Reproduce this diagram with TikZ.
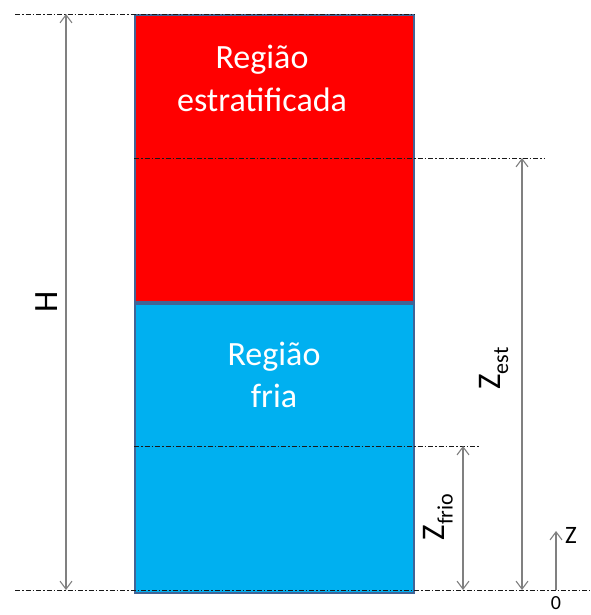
\documentclass[tikz,border=0pt]{standalone}
\usepackage{fontspec}
\setmainfont{Carlito}
\usetikzlibrary{arrows.meta}
\definecolor{hotred}{RGB}{255,0,0}
\definecolor{coldblue}{RGB}{0,176,240}
\definecolor{edgeblue}{RGB}{65,100,150}
\definecolor{shaftgray}{RGB}{128,128,128}
\tikzset{
  region/.style={draw=edgeblue, line width=2pt, anchor=north west, inner sep=0pt},
  level/.style={black!90, line width=0.9pt, dash pattern=on 5pt off 2pt on 1.5pt off 2pt},
  barb/.tip={Straight Barb[length=8pt,width=12pt,line width=1.1pt]},
  dim/.style={shaftgray, line width=1.4pt, barb-barb},
  bigtext/.style={white, font=\fontsize{34}{42}\selectfont, anchor=base, inner sep=0pt},
  label/.style={black, inner sep=0pt, font=\fontsize{33}{33}\selectfont}
}
\newcommand{\sublow}[1]{\raisebox{-8pt}{\fontsize{22}{22}\selectfont #1}}
\begin{document}
\begin{tikzpicture}[x=1pt,y=-1pt]
    \useasboundingbox (0,0) rectangle (590,615);
    % Tank: stratified (hot) region above, cold region below
    \node[region, fill=hotred, minimum width=279pt, minimum height=287pt] (hot) at (134,14) {};
    \node[region, fill=coldblue, minimum width=279pt, minimum height=289pt] (cold) at (hot.south west) {};
    \node[bigtext] (hotA) at (262,69) {Região};
    \node[bigtext] (hotB) at (262,112) {estratificada};
    \node[bigtext] (coldA) at (274,365) {Região};
    \node[bigtext] (coldB) at (274,407) {fria};
    % Reference levels
    \coordinate (topL) at (15,14);
    \coordinate (estL) at (134,158);
    \coordinate (estR) at (545,158);
    \coordinate (frioL) at (134,446);
    \coordinate (frioR) at (480,446);
    \coordinate (botL) at (15,590);
    \coordinate (botR) at (590,590);
    \draw[level] (topL) -- (hot.north east);
    \draw[level] (estL) -- (estR);
    \draw[level] (frioL) -- (frioR);
    \draw[level] (botL) -- (botR);
    % Heights
    \coordinate (hTop) at (66,14);
    \coordinate (hBot) at (66,590);
    \coordinate (eTop) at (522,158);
    \coordinate (eBot) at (522,590);
    \coordinate (fTop) at (463,446);
    \coordinate (fBot) at (463,590);
    \coordinate (zBot) at (556,590);
    \coordinate (zTop) at (556,531);
    \draw[dim] (hTop) -- (hBot);
    \draw[dim] (eTop) -- (eBot);
    \draw[dim] (fTop) -- (fBot);
    \draw[shaftgray, line width=1.4pt, -barb] (zBot) -- (zTop);
    \node[label, rotate=90, font=\fontsize{34}{34}\selectfont] (hLab) at (47,301.5) {H};
    \node[label, rotate=90] (eLab) at (493.5,368.5) {Z\sublow{est}};
    \node[label, rotate=90] (fLab) at (438,517) {Z\sublow{frio}};
    \node[label, anchor=west, font=\fontsize{25}{25}\selectfont] (zLab) at (565,535) {Z};
    \node[label, anchor=north, font=\fontsize{20}{20}\selectfont] (zero) at (556,596) {0};
\end{tikzpicture}
\end{document}
